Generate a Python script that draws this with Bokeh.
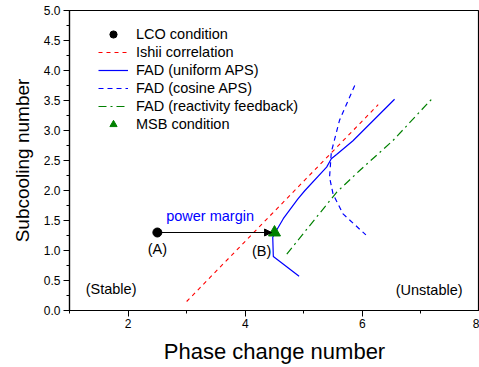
from bokeh.plotting import figure
from bokeh.models import (FixedTicker, Legend, LegendItem, Arrow, NormalHead,
                          Range1d, NumeralTickFormatter)
from bokeh.core.properties import value
from bokeh.embed import file_html
from bokeh.resources import INLINE

# ---- data ----
lco_x = [2.5]
lco_y = [1.3]
msb_x = [4.5]
msb_y = [1.3]
ishii_x = [3.0, 6.27]
ishii_y = [0.15, 3.43]
uni_x = [4.92, 4.48, 4.47, 4.53, 4.65, 4.90, 5.02, 5.39, 5.47, 5.56, 5.84, 6.55]
uni_y = [0.57, 0.90, 1.22, 1.33, 1.53, 1.86, 2.00, 2.39, 2.53, 2.60, 2.83, 3.52]
cos_x = [5.87, 5.61, 5.47, 5.44, 5.50, 5.67, 6.06]
cos_y = [3.75, 3.17, 2.64, 2.22, 1.94, 1.61, 1.26]
react_x = [4.71, 5.56, 5.95, 6.52, 7.18]
react_y = [0.94, 1.97, 2.33, 2.83, 3.52]
arrow_x = [2.5, 4.45]
arrow_y = [1.3, 1.3]
ann_text = ["(A)", "(B)", "(Stable)", "(Unstable)"]
ann_x = [2.5, 4.28, 1.71, 7.14]
ann_y = [1.03, 1.0, 0.36, 0.35]
margin_text = ["power margin"]
margin_x = [2.65]
margin_y = [1.57]
x_ticks = [2, 4, 6, 8]
x_minor = [1, 3, 5, 7]
y_ticks = [0, 0.5, 1.0, 1.5, 2.0, 2.5, 3.0, 3.5, 4.0, 4.5, 5.0]
y_minor = [0.25, 0.75, 1.25, 1.75, 2.25, 2.75, 3.25, 3.75, 4.25, 4.75]

FONT = "Liberation Sans"

p = figure(width=479, height=367, output_backend="svg", toolbar_location=None,
           x_range=Range1d(1, 8), y_range=Range1d(0, 5),
           min_border_left=69, min_border_right=0, min_border_top=10,
           min_border_bottom=57,
           x_axis_label="Phase change number", y_axis_label="Subcooling number")
p.xgrid.visible = False
p.ygrid.visible = False
p.outline_line_color = "black"
p.outline_line_width = 1.2
p.background_fill_color = "white"
p.border_fill_color = "white"

p.xaxis.ticker = FixedTicker(ticks=x_ticks, minor_ticks=x_minor)
p.yaxis.ticker = FixedTicker(ticks=y_ticks, minor_ticks=y_minor)
p.yaxis.formatter = NumeralTickFormatter(format="0.0")

for ax in (p.xaxis[0], p.yaxis[0]):
    ax.axis_line_color = "black"
    ax.axis_line_width = 1.2
    ax.major_tick_line_color = "black"
    ax.minor_tick_line_color = "black"
    ax.major_tick_out = 6
    ax.major_tick_in = 0
    ax.minor_tick_out = 3
    ax.minor_tick_in = 0
    ax.major_label_text_font = FONT
    ax.major_label_text_font_size = "12px"
    ax.major_label_text_color = "black"
    ax.axis_label_text_font = FONT
    ax.axis_label_text_font_style = "normal"
    ax.axis_label_text_color = "black"

p.xaxis.major_label_standoff = 2
p.yaxis.major_label_standoff = 3
p.xaxis.axis_label_text_font_size = "22px"
p.yaxis.axis_label_text_font_size = "19px"
p.xaxis.axis_label_standoff = 8
p.yaxis.axis_label_standoff = 8

# ---- glyphs ----
r_ishii = p.line(ishii_x, ishii_y, line_color="#FF0000", line_width=1.1, line_dash="4 4")
r_uni = p.line(uni_x, uni_y, line_color="#0000FF", line_width=1.2)
r_cos = p.line(cos_x, cos_y, line_color="#0000FF", line_width=1.2, line_dash="5 4")
r_react = p.line(react_x, react_y, line_color="#008000", line_width=1.2, line_dash="8 4 2 4")

p.add_layout(Arrow(end=NormalHead(size=7, fill_color="black", line_color="black"),
                   x_start=arrow_x[0], y_start=arrow_y[0],
                   x_end=arrow_x[1], y_end=arrow_y[1],
                   line_color="black", line_width=1))

r_lco = p.scatter(lco_x, lco_y, marker="circle", size=9, fill_color="black", line_color="black")
r_msb = p.scatter(msb_x, msb_y, marker="triangle", size=12, fill_color="#008000", line_color="#008000")

p.text(x=ann_x, y=ann_y, text=ann_text, text_font=value(FONT),
       text_font_size=value("14.5px"), text_align="center", text_baseline="middle",
       text_color="black")
p.text(x=margin_x, y=margin_y, text=margin_text, text_font=value(FONT),
       text_font_size=value("14.5px"), text_align="left", text_baseline="middle",
       text_color="#0000FF")

legend = Legend(items=[
    LegendItem(label="LCO condition", renderers=[r_lco]),
    LegendItem(label="Ishii correlation", renderers=[r_ishii]),
    LegendItem(label="FAD (uniform APS)", renderers=[r_uni]),
    LegendItem(label="FAD (cosine APS)", renderers=[r_cos]),
    LegendItem(label="FAD (reactivity feedback)", renderers=[r_react]),
    LegendItem(label="MSB condition", renderers=[r_msb]),
], location=(29, 177.5), padding=0, margin=0, spacing=0,
   glyph_width=30, glyph_height=18, label_height=18, label_standoff=8,
   border_line_color=None, background_fill_alpha=0,
   label_text_font=FONT, label_text_font_size="14.5px", label_text_color="black")
p.add_layout(legend)

open("out.html", "w").write(file_html(p, INLINE))
